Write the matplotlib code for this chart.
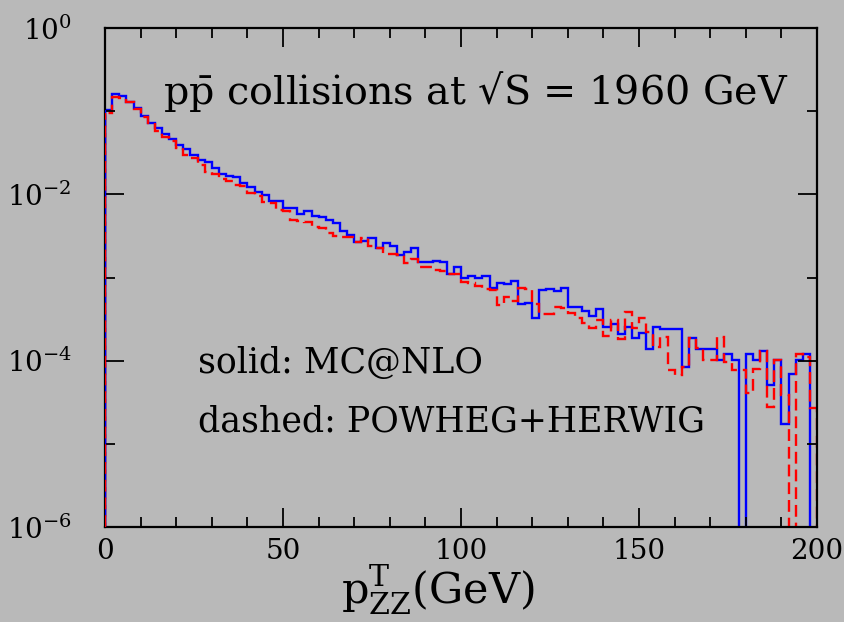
import numpy as np
import matplotlib
matplotlib.use("Agg")
import matplotlib.pyplot as plt
from matplotlib.ticker import FixedLocator, NullFormatter

plt.rcParams['font.family'] = ['DejaVu Serif']
plt.rcParams['mathtext.fontset'] = 'dejavuserif'

# bin edges in GeV (2 GeV bins)
edges = np.arange(0, 202, 2)

# solid: MC@NLO
mcnlo = [0.103, 0.161, 0.152, 0.130, 0.108, 0.0875, 0.0728, 0.0622, 0.0527, 0.0459,
         0.0393, 0.0348, 0.0298, 0.0259, 0.0243, 0.0206, 0.0174, 0.0166, 0.0160, 0.0136,
         0.0124, 0.0108, 0.00984, 0.00834, 0.00834, 0.00692, 0.00692, 0.00581, 0.00637, 0.00555,
         0.00540, 0.00492, 0.00449, 0.00362, 0.00325, 0.00270, 0.00278, 0.00302, 0.00225, 0.00263,
         0.00240, 0.00187, 0.00201, 0.00225, 0.00155, 0.00155, 0.00160, 0.00153, 0.00110, 0.00135,
         0.000998, 0.00103, 0.000998, 0.00104, 0.000743, 0.000869, 0.000830, 0.000910, 0.000482, 0.000491,
         0.000324, 0.000710, 0.000729, 0.000690, 0.000743, 0.000448, 0.000448, 0.000393, 0.000348, 0.000416,
         0.000257, 0.000277, 0.000208, 0.000257, 0.000186, 0.000214, 0.000137, 0.000257, 0.000239, 0.000239,
         0.000239, 0.0000849, 0.000186, 0.000137, 0.000137, 0.000137, 0.000102, 0.000121, 0.000102, 0.0,
         0.000121, 0.000102, 0.000129, 0.0000512, 0.000102, 0.0000174, 0.0000693, 0.000102, 0.000121, 0.0]

# dashed: POWHEG+HERWIG
powheg = [0.0944, 0.150, 0.143, 0.128, 0.106, 0.0859, 0.0714, 0.0578, 0.0494, 0.0439,
          0.0358, 0.0298, 0.0276, 0.0225, 0.0184, 0.0174, 0.0152, 0.0146, 0.0130, 0.0126,
          0.0103, 0.00957, 0.00818, 0.00796, 0.00649, 0.00637, 0.00492, 0.00483, 0.00466, 0.00402,
          0.00398, 0.00340, 0.00316, 0.00310, 0.00310, 0.00270, 0.00296, 0.00236, 0.00225, 0.00191,
          0.00191, 0.00184, 0.00151, 0.00167, 0.00135, 0.00135, 0.00122, 0.00120, 0.00109, 0.00109,
          0.000893, 0.000869, 0.000792, 0.000723, 0.000710, 0.000469, 0.000579, 0.000528, 0.000743, 0.000729,
          0.000482, 0.000365, 0.000365, 0.000436, 0.000428, 0.000372, 0.000324, 0.000282, 0.000245, 0.000309,
          0.000199, 0.000309, 0.000181, 0.000389, 0.000245, 0.000324, 0.000224, 0.000148, 0.000195, 0.0000774,
          0.0000675, 0.0000849, 0.000186, 0.000141, 0.000102, 0.000102, 0.000195, 0.0000977, 0.0000774, 0.0000774,
          0.0000406, 0.0000789, 0.000129, 0.0000276, 0.000102, 0.0000388, 0.0, 0.000120, 0.000112, 0.0000269]

ymajor = [1e-6, 1e-4, 1e-2, 1e0]
ymajor_labels = [r'$10^{-6}$', r'$10^{-4}$', r'$10^{-2}$', r'$10^{0}$']
yminor = [1e-5, 1e-3, 1e-1]
xmajor = [0, 50, 100, 150, 200]
xminor = list(range(0, 201, 10))

bg = '#b9b9b9'
fig = plt.figure(figsize=(8.45, 6.22), dpi=100, facecolor=bg)
ax = fig.add_axes([0.1243, 0.1527, 0.8426, 0.8023], facecolor=bg)

ax.set_yscale('log')
ax.set_xlim(0, 200)
ax.set_ylim(1e-6, 1)
ymin = ax.get_ylim()[0]

red_dash = (0, (5, 2.5))
ax.stairs(mcnlo, edges, baseline=0, color='#0000ff', lw=1.7)
ax.stairs(powheg, edges, baseline=0, color='#ff0000', lw=1.7, linestyle=red_dash)
# left edge of the histograms drawn over the frame, as in the original
ax.vlines(edges[0], ymin, mcnlo[0], color='#0000ff', lw=1.7, zorder=3)
ax.vlines(edges[0], ymin, powheg[0], color='#ff0000', lw=1.7, linestyle=red_dash, zorder=3)

ax.xaxis.set_major_locator(FixedLocator(xmajor))
ax.xaxis.set_minor_locator(FixedLocator(xminor))
ax.yaxis.set_major_locator(FixedLocator(ymajor))
ax.yaxis.set_minor_locator(FixedLocator(yminor))
ax.yaxis.set_minor_formatter(NullFormatter())
ax.set_yticklabels(ymajor_labels)
ax.tick_params(which='both', direction='in', top=True, right=True, width=1.3, colors='black')
ax.tick_params(which='major', length=14)
ax.tick_params(axis='y', which='major', labelsize=20, pad=24)
ax.tick_params(axis='x', which='major', labelsize=20, pad=8)
ax.tick_params(which='minor', length=7)
for sp in ax.spines.values():
    sp.set_linewidth(1.6)

fig.text(163/845, 1-104/622, r'p$\bar{\mathrm{p}}$ collisions at √S = 1960 GeV',
         fontsize=28.5, va='baseline', ha='left')
fig.text(198/845, 1-373/622, 'solid: MC@NLO', fontsize=25, va='baseline', ha='left')
fig.text(198/845, 1-431/622, 'dashed: POWHEG+HERWIG', fontsize=25, va='baseline', ha='left')
fig.text(438/845, 1-604/622, r'$\mathrm{p}^{\mathrm{T}}_{\mathrm{ZZ}}$(GeV)', fontsize=31,
         va='baseline', ha='center')

fig.savefig('out.png', dpi=100, facecolor=bg)
